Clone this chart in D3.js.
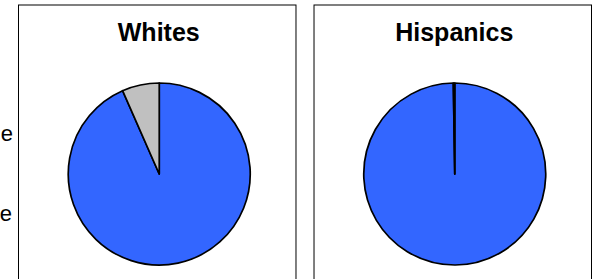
<!DOCTYPE html>
<html>
<head>
<meta charset="utf-8">
<script src="https://cdn.jsdelivr.net/npm/d3@7"></script>
<style>
  html, body { margin: 0; padding: 0; background: #fff; }
  svg { display: block; }
  text { font-family: "Liberation Sans", Arial, sans-serif; }
</style>
</head>
<body>
<svg id="chart"></svg>
<script>
(function() {
    'use strict';

    var WIDTH = 601, HEIGHT = 279;

    // panels and the two slices of each pie (percent)
    var groups = ['Whites', 'Hispanics'];
    var sliceNames = ['Majority', 'Other'];
    var whitesValues = [93.4, 6.6];
    var hispanicsValues = [99.75, 0.25];
    var sliceColors = ['#3366ff', '#c0c0c0'];
    // cut-off legend text at the left edge
    var legendLabels = ['e', 'e'];

    var values = { Whites: whitesValues, Hispanics: hispanicsValues };

    var svg = d3.select('#chart').attr('width', WIDTH).attr('height', HEIGHT);

    var x = d3.scaleBand()
        .domain(groups)
        .range([18.5, 591.5])
        .paddingInner(0.061)
        .paddingOuter(0);

    var color = d3.scaleOrdinal().domain(sliceNames).range(sliceColors);

    var radius = 91;
    var pieY = 174;

    var pie = d3.pie().sort(null).value(d => d.value);
    var arc = d3.arc().innerRadius(0).outerRadius(radius);

    var panels = svg.selectAll('g.panel')
        .data(groups)
        .enter()
        .append('g')
            .attr('class', 'panel')
            .attr('transform', g => 'translate(' + x(g) + ',0)');

    panels.append('rect')
        .attr('x', 0)
        .attr('y', 5)
        .attr('width', x.bandwidth())
        .attr('height', 300)
        .attr('fill', '#fff')
        .attr('stroke', '#000')
        .attr('stroke-width', 1);

    panels.append('text')
        .attr('x', x.bandwidth() / 2 + 1.5)
        .attr('y', 41)
        .attr('text-anchor', 'middle')
        .attr('font-size', '25px')
        .attr('font-weight', 'bold')
        .attr('fill', '#000')
        .text(g => g);

    var pies = panels.append('g')
        .attr('transform', 'translate(' + (x.bandwidth() / 2 + 2) + ',' + pieY + ')');

    pies.selectAll('path')
        .data(g => pie(values[g].map((v, i) => ({ name: sliceNames[i], value: v }))))
        .enter()
        .append('path')
            .attr('d', arc)
            .attr('fill', d => color(d.data.name))
            .attr('stroke', '#000')
            .attr('stroke-width', 1.7)
            .attr('stroke-linejoin', 'round');

    // legend labels, mostly outside the picture
    svg.selectAll('text.legend')
        .data(legendLabels)
        .enter()
        .append('text')
            .attr('class', 'legend')
            .attr('x', (d, i) => i === 0 ? 13 : 12)
            .attr('y', (d, i) => i === 0 ? 141 : 221)
            .attr('text-anchor', 'end')
            .attr('font-size', '22px')
            .attr('fill', '#000')
            .text(d => d);
})();
</script>
</body>
</html>
